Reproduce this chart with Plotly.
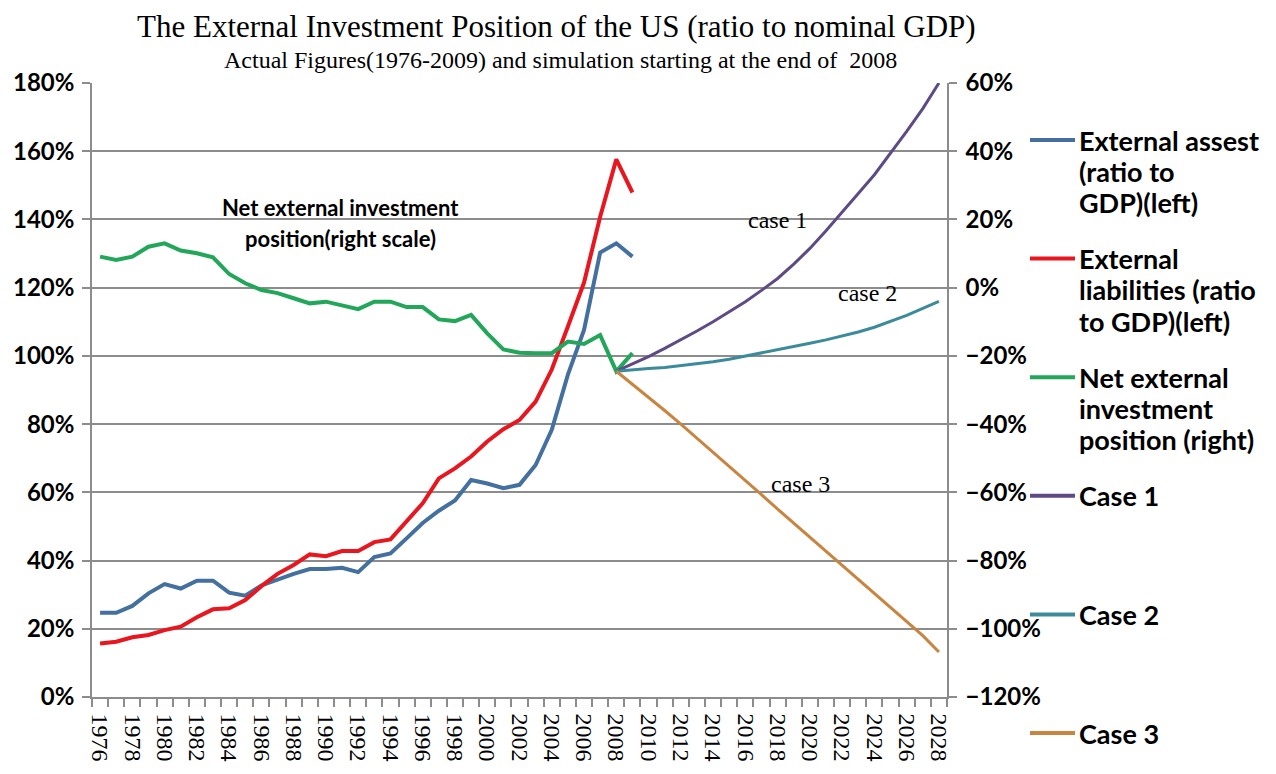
import plotly.graph_objects as go

# ---- data (percent of nominal GDP) ----
years_actual = list(range(1976, 2010))
years_sim = list(range(2008, 2029))

external_assets = [24.7, 24.7, 26.7, 30.4, 33.1, 31.8, 34.1, 34.1, 30.6, 29.7,
                   32.7, 34.5, 36.1, 37.5, 37.5, 37.9, 36.6, 41.0, 42.1, 46.5,
                   51.0, 54.6, 57.6, 63.6, 62.6, 61.2, 62.2, 68.0, 78.3, 94.5,
                   107.6, 130.3, 133.0, 129.1]
external_liabilities = [15.7, 16.2, 17.5, 18.2, 19.6, 20.6, 23.4, 25.7, 26.0, 28.4,
                        32.5, 36.1, 38.7, 41.8, 41.3, 42.8, 42.8, 45.4, 46.2, 51.4,
                        56.8, 64.1, 67.0, 70.5, 74.9, 78.5, 81.2, 86.6, 96.0, 108.6,
                        121.5, 140.8, 157.6, 147.9]
net_position = [9.1, 8.1, 9.1, 12.0, 13.0, 10.9, 10.1, 8.9, 4.0, 1.3,
                -0.7, -1.6, -3.1, -4.6, -4.1, -5.1, -6.3, -4.1, -4.1, -5.7,
                -5.7, -9.3, -9.8, -8.0, -13.4, -18.1, -19.1, -19.2, -19.2, -15.8,
                -16.5, -13.9, -24.5, -19.2]

case1 = [-24.5, -22.4, -20.2, -17.8, -15.3, -12.7, -10.0, -7.1, -4.1, -0.8, 2.7,
         6.9, 11.5, 16.7, 22.3, 27.6, 33.1, 39.3, 45.8, 52.5, 60.0]
case2 = [-24.5, -24.0, -23.7, -23.4, -22.9, -22.3, -21.7, -21.0, -20.1, -19.2, -18.3,
         -17.3, -16.3, -15.3, -14.2, -13.0, -11.6, -9.9, -8.1, -6.1, -4.0]
case3 = [-24.5, -28.3, -32.0, -36.0, -40.0, -44.1, -48.2, -52.3, -56.5, -60.7, -64.9,
         -69.0, -73.1, -77.2, -81.3, -85.4, -89.5, -93.8, -97.8, -102.0, -106.8]

all_years = list(range(1976, 2029))
label_years = all_years[::2]

legend_items = [
    ("#44709F", ["External assest", "(ratio to", "GDP)(left)"]),
    ("#E8171F", ["External", "liabilities (ratio", "to GDP)(left)"]),
    ("#22A75A", ["Net external", "investment", "position (right)"]),
    ("#5E4A85", ["Case 1"]),
    ("#3B8B9B", ["Case 2"]),
    ("#C98540", ["Case 3"]),
]

GRID = "#8c8c8c"
SANS = "Lato"
SERIF = "Liberation Serif"

# ---- page geometry (pixels) ----
W, H = 1276, 774
L, R, T, B = 92, 947, 83, 697


def px(x):
    return (x - L) / (R - L)


def py(y):
    return (B - y) / (B - T)


fig = go.Figure()

fig.add_trace(go.Scatter(x=years_actual, y=external_assets, mode="lines",
                         line=dict(color="#44709F", width=4), yaxis="y",
                         name="External assest (ratio to GDP)(left)"))
fig.add_trace(go.Scatter(x=years_actual, y=external_liabilities, mode="lines",
                         line=dict(color="#E8171F", width=4), yaxis="y",
                         name="External liabilities (ratio to GDP)(left)"))
fig.add_trace(go.Scatter(x=years_actual, y=net_position, mode="lines",
                         line=dict(color="#22A75A", width=4), yaxis="y2",
                         name="Net external investment position (right)"))
fig.add_trace(go.Scatter(x=years_sim, y=case1, mode="lines",
                         line=dict(color="#5E4A85", width=3), yaxis="y2", name="Case 1"))
fig.add_trace(go.Scatter(x=years_sim, y=case2, mode="lines",
                         line=dict(color="#3B8B9B", width=3), yaxis="y2", name="Case 2"))
fig.add_trace(go.Scatter(x=years_sim, y=case3, mode="lines",
                         line=dict(color="#C98540", width=3), yaxis="y2", name="Case 3"))

annotations = []
shapes = []

# titles
annotations.append(dict(text="The External Investment Position of the US (ratio to nominal GDP)",
                        xref="paper", yref="paper", x=px(556), y=py(27),
                        xanchor="center", yanchor="middle", showarrow=False,
                        font=dict(family=SERIF, size=31, color="black")))
annotations.append(dict(text="Actual Figures(1976-2009) and simulation starting at the end of  2008",
                        xref="paper", yref="paper", x=px(560), y=py(60),
                        xanchor="center", yanchor="middle", showarrow=False,
                        font=dict(family=SERIF, size=24, color="black")))

# in-chart labels (left-axis data coordinates)
for txt, xv, yv, fam, sz in [
    ("Net external investment", 1990.9, 143.6, SANS, 22),
    ("position(right scale)", 1990.9, 134.5, SANS, 22),
    ("case 1", 2018.0, 139.8, SERIF, 24),
    ("case 2", 2023.6, 118.4, SERIF, 24),
    ("case 3", 2019.4, 62.4, SERIF, 24),
]:
    annotations.append(dict(text=txt, x=xv, y=yv, xref="x", yref="y",
                            showarrow=False, xanchor="center", yanchor="middle",
                            font=dict(family=fam, size=sz, color="black",
                                      weight="bold" if fam == SANS else "normal")))

# legend block on the right
item_top = 140
for i, (color, lines) in enumerate(legend_items):
    y0 = item_top + i * 118.6
    shapes.append(dict(type="line", xref="paper", yref="paper",
                       x0=px(1030), x1=px(1075), y0=py(y0), y1=py(y0),
                       line=dict(color=color, width=4)))
    for j, ln in enumerate(lines):
        annotations.append(dict(text=ln, xref="paper", yref="paper",
                                x=px(1077), y=py(y0 + j * 31.3),
                                xanchor="left", yanchor="middle", showarrow=False,
                                font=dict(family=SANS, size=27, color="black",
                                          weight="bold")))

fig.update_layout(
    width=W, height=H,
    margin=dict(l=L, r=W - R, t=T, b=H - B, autoexpand=False),
    paper_bgcolor="white", plot_bgcolor="white",
    showlegend=False,
    annotations=annotations,
    shapes=shapes,
    xaxis=dict(
        range=[1975.5, 2028.5], automargin=False,
        tickmode="array", tickvals=label_years, ticktext=[str(y) for y in label_years],
        tickangle=90, ticks="", ticklen=0, ticklabelstandoff=10,
        tickfont=dict(family=SERIF, size=24, color="black"),
        showline=True, linecolor=GRID, linewidth=1.5,
        showgrid=False, zeroline=False,
        minor=dict(tickmode="array",
                   tickvals=[y - 0.5 for y in all_years] + [all_years[-1] + 0.5],
                   ticks="outside", ticklen=8, tickcolor=GRID, tickwidth=1.5,
                   showgrid=False),
    ),
    yaxis=dict(
        range=[0, 180], dtick=20, tick0=0, ticksuffix="%", automargin=False,
        showgrid=True, gridcolor=GRID, gridwidth=1.5,
        showline=True, linecolor=GRID, linewidth=1.5,
        ticks="outside", ticklen=8, tickcolor=GRID, tickwidth=1.5,
        ticklabelstandoff=3,
        tickfont=dict(family=SANS, size=24, color="black", weight="bold"),
        zeroline=False,
    ),
    yaxis2=dict(
        range=[-120, 60], dtick=20, tick0=0, ticksuffix="%", automargin=False,
        overlaying="y", side="right",
        showgrid=False, zeroline=False,
        showline=True, linecolor=GRID, linewidth=1.5,
        ticks="outside", ticklen=8, tickcolor=GRID, tickwidth=1.5,
        ticklabelstandoff=4,
        tickfont=dict(family=SANS, size=24, color="black", weight="bold"),
    ),
)

fig.write_html("out.html")
